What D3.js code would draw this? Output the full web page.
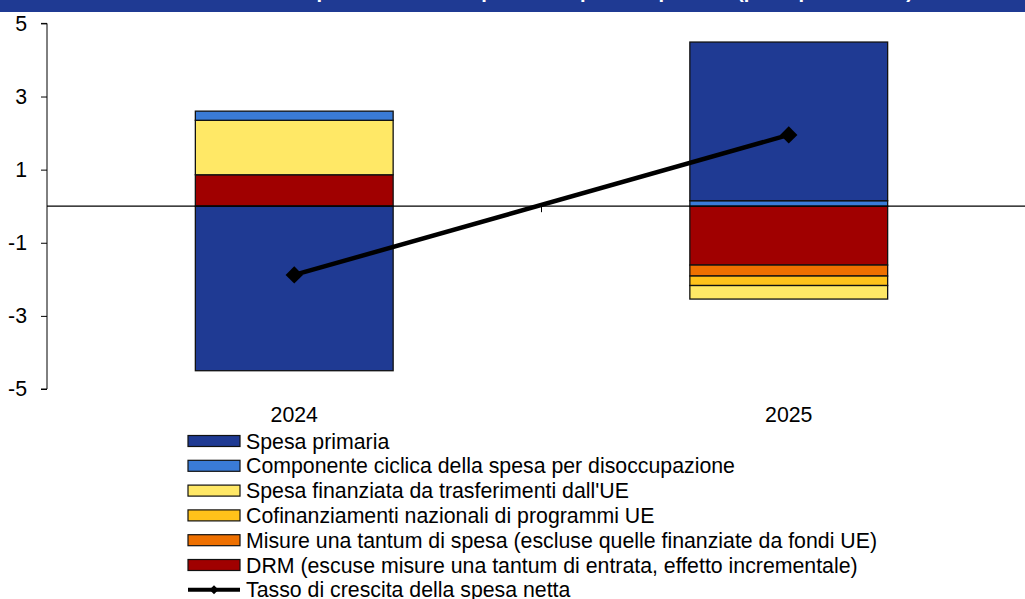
<!DOCTYPE html>
<html>
<head>
<meta charset="utf-8">
<script src="https://cdn.jsdelivr.net/npm/d3@7"></script>
<style>
  html, body { margin: 0; padding: 0; background: #fff; }
  svg { display: block; font-family: "Liberation Sans", Arial, sans-serif; }
</style>
</head>
<body>
<svg id="chart" width="1025" height="599"></svg>
<script>
// ---- Data ----
const categories = ["2024", "2025"];
const spesaPrimaria = [-4.50, 4.34];
const componenteCiclica = [0.25, 0.15];
const spesaUE = [1.49, -0.37];
const cofinanziamenti = [0.00, -0.26];
const misureTantum = [0.00, -0.30];
const drm = [0.86, -1.61];
const tassoCrescita = [-1.88, 1.95];
const yTicks = [5, 3, 1, -1, -3, -5];

const seriesNames = [
  "Spesa primaria",
  "Componente ciclica della spesa per disoccupazione",
  "Spesa finanziata da trasferimenti dall'UE",
  "Cofinanziamenti nazionali di programmi UE",
  "Misure una tantum di spesa (escluse quelle finanziate da fondi UE)",
  "DRM (escuse misure una tantum di entrata, effetto incrementale)"
];
const seriesValues = [spesaPrimaria, componenteCiclica, spesaUE, cofinanziamenti, misureTantum, drm];
const seriesColors = ["#1F3A93", "#3A7BD6", "#FFE866", "#FFC21A", "#EE7000", "#A00000"];
const lineName = "Tasso di crescita della spesa netta";
const titleText = "Contributi alla variazione della spesa netta: scomposizione per componenti (punti percentuali)";

// ---- Build table ----
const table = categories.map((c, i) => {
  const row = { cat: c };
  seriesNames.forEach((n, k) => row[n] = seriesValues[k][i]);
  return row;
});
// stacking order: reverse of legend order
const stackKeys = seriesNames.slice().reverse();
const stacked = d3.stack().keys(stackKeys).offset(d3.stackOffsetDiverging)(table);

const svg = d3.select("#chart");
const FS = 21.3;

// title band
svg.append("rect").attr("x", 0).attr("y", 0).attr("width", 1025).attr("height", 12).attr("fill", "#1F3A93");
svg.append("text").attr("x", 8).attr("y", -2).attr("fill", "#fff")
  .attr("font-size", 20).attr("font-weight", "bold")
  .attr("textLength", 905).attr("lengthAdjust", "spacingAndGlyphs")
  .text(titleText);

// scales
const x = d3.scaleBand().domain(categories).range([47, 1036]).paddingInner(0.6).paddingOuter(0.3);
const xOuter = d3.scaleBand().domain(categories).range([47, 1036]);
const y = d3.scaleLinear().domain([-5, 5]).range([389, 23.4]);

// bars
const g = svg.append("g");
stacked.forEach(layer => {
  const color = seriesColors[seriesNames.indexOf(layer.key)];
  g.selectAll(null).data(layer.filter(d => d[1] - d[0] !== 0)).join("rect")
    .attr("x", d => x(d.data.cat))
    .attr("width", x.bandwidth())
    .attr("y", d => y(Math.max(d[0], d[1])))
    .attr("height", d => Math.abs(y(d[0]) - y(d[1])))
    .attr("fill", color)
    .attr("stroke", "#111")
    .attr("stroke-width", 1.3);
});

// y axis
const yAxis = d3.axisLeft(y).tickValues(yTicks).tickSize(6).tickPadding(14).tickFormat(d => String(d));
const ya = svg.append("g").attr("transform", "translate(47,0)").call(yAxis);
ya.select(".domain").attr("stroke", "#000").attr("d", `M-6,${y(5)}H0V${y(-5)}H-6`);
ya.selectAll(".tick line").attr("stroke", "#000");
ya.selectAll(".tick text").attr("font-size", FS).attr("fill", "#000")
  .attr("font-family", "'Liberation Sans', Arial, sans-serif");

// zero line (x axis)
svg.append("line").attr("x1", 47).attr("x2", 1025).attr("y1", y(0)).attr("y2", y(0))
  .attr("stroke", "#000").attr("stroke-width", 1.2);
// category boundary ticks
const boundaries = categories.slice(1).map(c => xOuter(c));
svg.selectAll(null).data(boundaries).join("line")
  .attr("x1", d => d).attr("x2", d => d).attr("y1", y(0)).attr("y2", y(0) + 6)
  .attr("stroke", "#000");

// category labels
svg.selectAll(null).data(categories).join("text")
  .attr("x", d => x(d) + x.bandwidth() / 2)
  .attr("y", 422)
  .attr("text-anchor", "middle")
  .attr("font-size", FS)
  .attr("fill", "#000")
  .text(d => d);

// line
const cx = d => x(d) + x.bandwidth() / 2;
const linePts = categories.map((c, i) => [cx(c), y(tassoCrescita[i])]);
svg.append("path").attr("d", d3.line()(linePts)).attr("fill", "none").attr("stroke", "#000").attr("stroke-width", 4.5);
svg.selectAll(null).data(linePts).join("path")
  .attr("transform", d => `translate(${d[0]},${d[1]}) rotate(45)`)
  .attr("d", d3.symbol().type(d3.symbolSquare).size(150))
  .attr("fill", "#000");

// legend
const legY0 = 441, legDy = 24.8;
const leg = svg.append("g");
seriesNames.forEach((n, i) => {
  const yy = legY0 + i * legDy;
  leg.append("rect").attr("x", 188).attr("y", yy - 5.5).attr("width", 52).attr("height", 11)
    .attr("fill", seriesColors[i]).attr("stroke", "#111").attr("stroke-width", 1.2);
  leg.append("text").attr("x", 246).attr("y", yy + 7.5).attr("font-size", FS).attr("fill", "#000").text(n);
});
{
  const yy = legY0 + 6 * legDy;
  leg.append("line").attr("x1", 188).attr("x2", 240).attr("y1", yy).attr("y2", yy)
    .attr("stroke", "#000").attr("stroke-width", 4);
  leg.append("path").attr("transform", `translate(214,${yy}) rotate(45)`)
    .attr("d", d3.symbol().type(d3.symbolSquare).size(40)).attr("fill", "#000");
  leg.append("text").attr("x", 246).attr("y", yy + 7.5).attr("font-size", FS).attr("fill", "#000").text(lineName);
}
</script>
</body>
</html>
